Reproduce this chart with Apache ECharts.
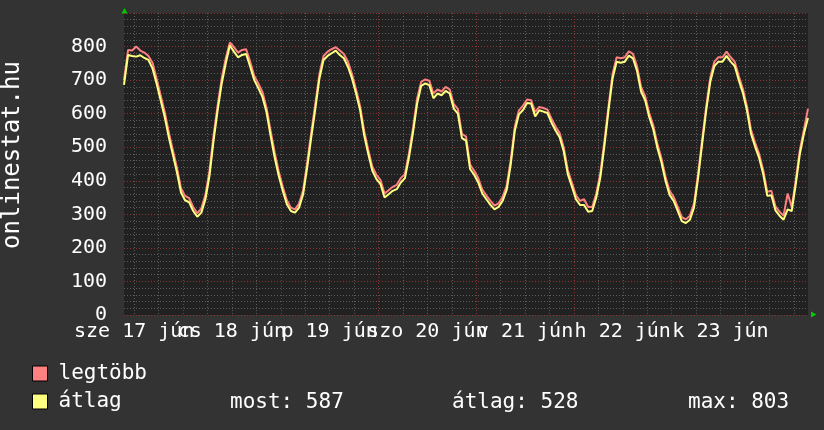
<!DOCTYPE html>
<html>
<head>
<meta charset="utf-8">
<title>onlinestat.hu</title>
<script src="https://cdn.jsdelivr.net/npm/echarts@6.0.0/dist/echarts.min.js"></script>
<style>
  html, body { margin: 0; padding: 0; background: #333333; }
  #chart { width: 824px; height: 430px; }
</style>
</head>
<body>
<div id="chart"></div>
<script>
// hourly samples, x = hours since 2015-06-17 09:30 (one week)
const avgUsers = [
  686, 775, 772, 770, 774, 766, 760, 735, 690, 640, 590, 530,
  478, 425, 365, 342, 336, 310, 293, 305, 345, 415, 520, 610,
  690, 750, 803, 785, 768, 775, 778, 740, 700, 676, 650, 605,
  535, 470, 415, 370, 330, 310, 305, 320, 360, 440, 530, 615,
  705, 760, 772, 780, 788, 775, 765, 740, 705, 660, 610, 535,
  480, 430, 405, 390, 350, 360, 370, 375, 395, 408, 470, 545,
  630, 683, 690, 685, 646, 660, 655, 668, 660, 615, 600, 527,
  520, 435, 418, 395, 362, 345, 328, 315, 322, 340, 373, 450,
  550, 598, 611, 632, 630, 592, 610, 606, 602, 573, 550, 530,
  488, 420, 383, 345, 328, 328, 308, 310, 350, 410, 505, 610,
  705, 755, 752, 755, 773, 765, 728, 666, 640, 590, 553, 498,
  455, 400, 358, 340, 310, 280, 274, 284, 320, 408, 510, 610,
  695, 742, 755, 755, 772, 755, 742, 700, 662, 610, 540, 502,
  468, 420, 355, 357, 312, 296, 284, 315, 310, 390, 480, 540,
  587
];
const maxUsers = [
  700, 790, 788, 800, 788, 782, 772, 752, 705, 655, 605, 545,
  492, 440, 378, 355, 348, 322, 303, 318, 358, 430, 535, 625,
  705, 765, 812, 798, 782, 790, 792, 755, 712, 690, 665, 618,
  550, 485, 428, 382, 342, 320, 315, 332, 372, 455, 545, 630,
  718, 772, 785, 792, 798, 788, 778, 755, 718, 672, 622, 548,
  492, 442, 418, 402, 362, 372, 382, 388, 408, 420, 482, 558,
  645, 695, 702, 698, 660, 672, 666, 680, 672, 628, 614, 540,
  532, 448, 430, 408, 374, 356, 340, 326, 333, 352, 386, 463,
  562, 610, 624, 642, 640, 605, 620, 617, 612, 585, 562, 542,
  500, 432, 395, 357, 340, 345, 322, 322, 362, 423, 518, 622,
  718, 768, 765, 768, 786, 778, 742, 680, 652, 602, 565, 510,
  467, 412, 370, 352, 322, 292, 285, 296, 332, 420, 522, 622,
  708, 755, 768, 768, 785, 768, 755, 712, 674, 622, 552, 514,
  480, 432, 367, 370, 324, 308, 296, 362, 322, 402, 492, 552,
  615
];

const dayLabels = ['sze 17 jún', 'cs 18 jún', 'p 19 jún', 'szo 20 jún', 'v 21 jún', 'h 22 jún', 'k 23 jún'];
const noonHours = [2.5, 26.5, 50.5, 74.5, 98.5, 122.5, 146.5];
const midnightHours = [14.5, 38.5, 62.5, 86.5, 110.5, 134.5, 158.5];
const sixHourLines = [2.5, 8.5, 20.5, 26.5, 32.5, 44.5, 50.5, 56.5, 68.5, 74.5, 80.5,
  92.5, 98.5, 104.5, 116.5, 122.5, 128.5, 140.5, 146.5, 152.5, 164.5];
const seriesNames = ['legtöbb', 'átlag'];
const stats = ['most: 587', 'átlag: 528', 'max: 803'];

const mono = 'DejaVu Sans Mono';
const minorGrid = { color: '#5c5c5c', type: [1, 2], width: 1 };
const majorGrid = { color: '#8a3434', type: [1, 2], width: 1 };

// day labels overlap like in rrdtool, so spread them over two axes
// (echarts would otherwise drop a label that collides with the first one)
const dayLabel = v => dayLabels[Math.round((v - noonHours[0]) / 24)];
const labelAxis = (values, grid) => ({
  type: 'value', min: 0, max: 168, position: 'bottom',
  axisLine: { show: false },
  axisTick: { show: false, customValues: grid ? midnightHours : values },
  splitLine: { show: grid, lineStyle: majorGrid },
  axisLabel: {
    customValues: values,
    color: '#fff', fontFamily: mono, fontSize: 20, margin: 7,
    formatter: dayLabel
  }
});

const chart = echarts.init(document.getElementById('chart'));

const option = {
  backgroundColor: '#333333',
  animation: false,
  grid: {
    left: 124, top: 13, width: 684, height: 302,
    show: true, backgroundColor: '#212121', borderWidth: 0
  },
  legend: {
    orient: 'vertical',
    left: 32, top: 362, padding: 0,
    itemWidth: 15, itemHeight: 15, itemGap: 5,
    icon: 'rect',
    itemStyle: { borderColor: '#000', borderWidth: 1 },
    textStyle: { color: '#fff', fontFamily: mono, fontSize: 21, lineHeight: 23, padding: [0, 0, 0, 6] },
    data: seriesNames
  },
  xAxis: [
    {
      type: 'value', min: 0, max: 168, position: 'bottom',
      axisLine: { show: false },
      axisTick: { show: false, customValues: sixHourLines },
      axisLabel: { show: false },
      splitLine: { show: true, lineStyle: minorGrid }
    },
    labelAxis(noonHours.filter((h, i) => i % 2 === 0), true),
    labelAxis(noonHours.filter((h, i) => i % 2 === 1), false)
  ],
  yAxis: [
    {
      type: 'value', min: 0, max: 900, interval: 20, position: 'left',
      axisLine: { show: false }, axisTick: { show: false },
      axisLabel: { show: false },
      splitLine: { show: true, lineStyle: minorGrid }
    },
    {
      type: 'value', min: 0, max: 900, interval: 100, position: 'left',
      axisLine: { show: false }, axisTick: { show: false },
      splitLine: { show: true, lineStyle: majorGrid },
      axisLabel: {
        color: '#fff', fontFamily: mono, fontSize: 20, margin: 17,
        formatter: v => (v >= 900 ? '' : String(v))
      }
    }
  ],
  series: [
    {
      name: seriesNames[0], type: 'line', showSymbol: false,
      xAxisIndex: 0, yAxisIndex: 0,
      color: '#ff8080', lineStyle: { width: 2 },
      data: maxUsers.map((v, i) => [i, v])
    },
    {
      name: seriesNames[1], type: 'line', showSymbol: false,
      xAxisIndex: 0, yAxisIndex: 0,
      color: '#ffff80', lineStyle: { width: 2 },
      data: avgUsers.map((v, i) => [i, v])
    }
  ],
  graphic: [
    // vertical unit label
    {
      type: 'text', x: 13, y: 155, rotation: Math.PI / 2,
      style: { text: 'onlinestat.hu', fill: '#fff', font: '24px "DejaVu Sans Mono"', align: 'center', verticalAlign: 'middle' }
    },
    // axis arrows
    { type: 'polygon', shape: { points: [[121.5, 13.5], [127.5, 13.5], [124.5, 8]] }, style: { fill: '#00cc00' } },
    { type: 'polygon', shape: { points: [[811, 311.5], [811, 317.5], [816.5, 314.5]] }, style: { fill: '#00cc00' } },
    // gprint line
    { type: 'text', x: 230, y: 403, style: { text: stats[0], fill: '#fff', font: '21px "DejaVu Sans Mono"', verticalAlign: 'middle' } },
    { type: 'text', x: 452, y: 403, style: { text: stats[1], fill: '#fff', font: '21px "DejaVu Sans Mono"', verticalAlign: 'middle' } },
    { type: 'text', x: 688, y: 403, style: { text: stats[2], fill: '#fff', font: '21px "DejaVu Sans Mono"', verticalAlign: 'middle' } }
  ]
};

chart.setOption(option);
</script>
</body>
</html>
